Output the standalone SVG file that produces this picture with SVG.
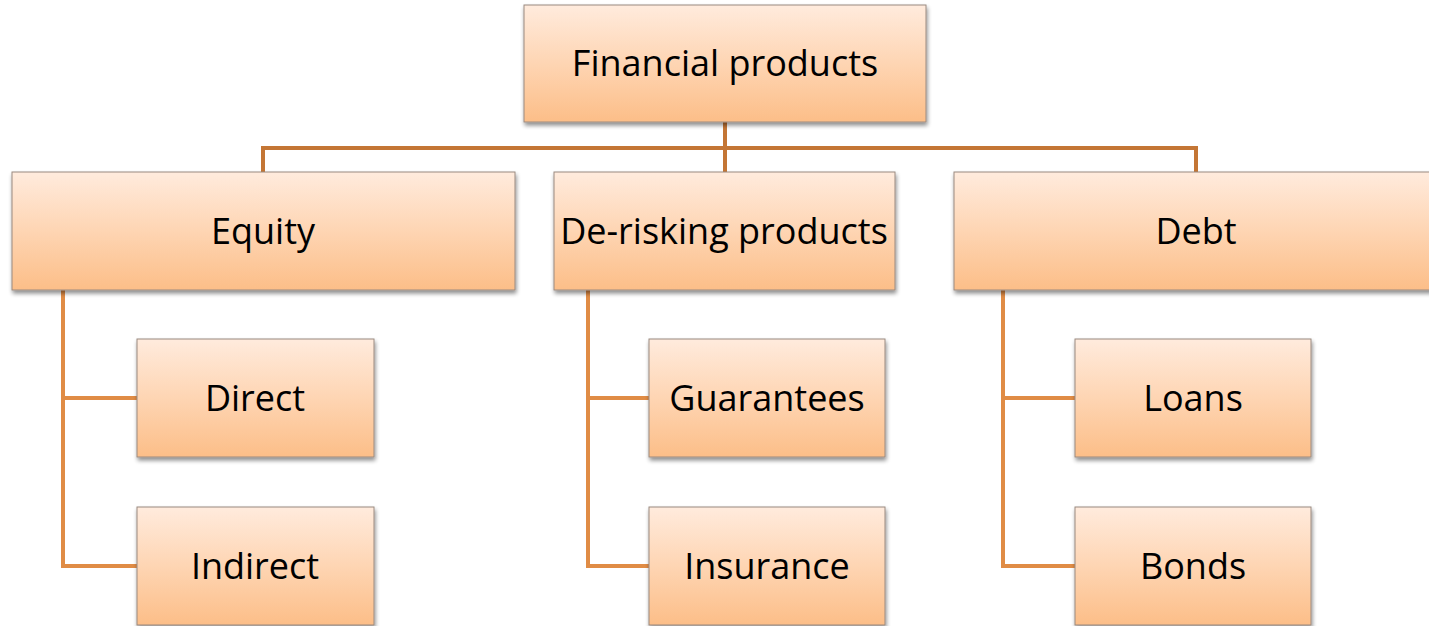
<svg xmlns="http://www.w3.org/2000/svg" width="1429" height="626" viewBox="0 0 1429 626">
  <style>
    .box { fill: url(#peach); stroke: #9a8a80; stroke-width: 1; filter: url(#shadow); }
    .label { font-family: "Open Sans", "Liberation Sans", sans-serif; font-size: 36px; fill: #000; text-anchor: middle; dominant-baseline: central; }
    .bus { stroke: #c47635; stroke-width: 4; fill: none; }
    .branch { stroke: #e08c45; stroke-width: 4; fill: none; }
  </style>
  <defs>
    <linearGradient id="peach" x1="0" y1="0" x2="0" y2="1">
      <stop offset="0" stop-color="#ffebdd"/>
      <stop offset="0.5" stop-color="#fed5b3"/>
      <stop offset="1" stop-color="#fcbe88"/>
    </linearGradient>
    <filter id="shadow" x="-5%" y="-5%" width="112%" height="120%">
      <feGaussianBlur in="SourceAlpha" stdDeviation="2"/>
      <feOffset dx="1" dy="3" result="b"/>
      <feComponentTransfer><feFuncA type="linear" slope="0.45"/></feComponentTransfer>
      <feMerge><feMergeNode/><feMergeNode in="SourceGraphic"/></feMerge>
    </filter>
  </defs>
  <rect width="1429" height="626" fill="#fff"/>

  <g id="connectors">
    <path class="bus" d="M725 122 V172 M263 172 V148 H1196 V172"/>
    <path class="branch" d="M63 290 V566 H137 M63 398 H137"/>
    <path class="branch" d="M588 290 V566 H649 M588 398 H649"/>
    <path class="branch" d="M1003 290 V566 H1075 M1003 398 H1075"/>
  </g>

  <g id="financial-products">
    <rect class="box" x="524" y="5" width="402" height="117"/>
    <text class="label" x="725" y="62">Financial products</text>
  </g>
  <g id="equity">
    <rect class="box" x="12" y="172" width="503" height="118"/>
    <text class="label" x="263" y="230">Equity</text>
  </g>
  <g id="de-risking-products">
    <rect class="box" x="554" y="172" width="341" height="118"/>
    <text class="label" x="724" y="230">De-risking products</text>
  </g>
  <g id="debt">
    <rect class="box" x="954" y="172" width="480" height="118"/>
    <text class="label" x="1196" y="230">Debt</text>
  </g>
  <g id="direct">
    <rect class="box" x="137" y="339" width="237" height="118"/>
    <text class="label" x="255" y="397">Direct</text>
  </g>
  <g id="indirect">
    <rect class="box" x="137" y="507" width="237" height="118"/>
    <text class="label" x="255" y="565">Indirect</text>
  </g>
  <g id="guarantees">
    <rect class="box" x="649" y="339" width="236" height="118"/>
    <text class="label" x="767" y="397">Guarantees</text>
  </g>
  <g id="insurance">
    <rect class="box" x="649" y="507" width="236" height="118"/>
    <text class="label" x="767" y="565">Insurance</text>
  </g>
  <g id="loans">
    <rect class="box" x="1075" y="339" width="236" height="118"/>
    <text class="label" x="1193" y="397">Loans</text>
  </g>
  <g id="bonds">
    <rect class="box" x="1075" y="507" width="236" height="118"/>
    <text class="label" x="1193" y="565">Bonds</text>
  </g>
</svg>
